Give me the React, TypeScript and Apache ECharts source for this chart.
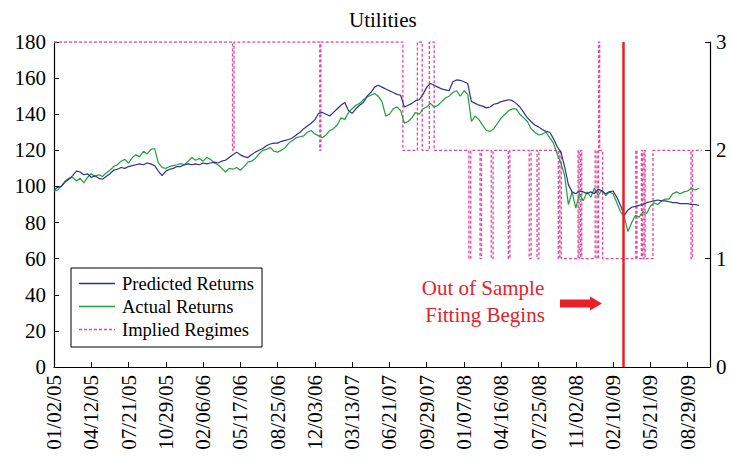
import React, { useEffect, useRef } from "react";
import * as echarts from "echarts";

// x positions: calendar days since 01/02/05, one reading every 10 days
const dayStep = 10;
const predictedReturns = [
  98, 99.5, 100, 102.5, 104, 106, 108.5, 108, 106.5, 107,
  105, 106, 104.5, 104, 105.5, 107, 109, 109.5, 110.5, 110,
  111, 111.5, 112, 112.5, 112, 113, 112.5, 111.5, 108.5, 106,
  108.5, 109.5, 110, 111, 111, 112, 112.5, 112, 112.5, 112,
  113, 112.5, 113, 113.5, 113, 114, 114.5, 116, 117.5, 119,
  117.5, 116.5, 116, 117.5, 119, 120, 121, 122.5, 123.5, 124,
  124, 125, 125.5, 126, 127, 128.5, 130, 132, 133.5, 135,
  137, 140.5, 141, 140, 139, 141, 143, 145, 146.5, 142,
  140.5, 143, 145, 146.5, 150, 152, 155, 156, 155, 154,
  153, 152, 151, 150.5, 144, 145, 146, 147.5, 148, 151,
  155, 157, 156, 155, 154, 153.5, 153, 158, 159, 158.8,
  158, 157, 147, 146, 145, 144.5, 143.5, 144, 145.5, 146,
  147, 147.5, 148, 147.5, 146, 144, 141, 138, 136, 134,
  133, 131.5, 130.5, 130, 126.5, 122, 119, 111, 101, 97,
  96, 97.5, 97, 96, 97, 96, 98.5, 97.5, 96, 97,
  97.5, 94, 89.5, 84, 87, 88.5, 89, 89.5, 90, 91,
  91.5, 92, 92.5, 92, 92, 91.5, 91, 91, 90.5, 90.5,
  90.5, 90, 90, 89.5
];
const actualReturns = [
  97.5, 98, 100.5, 103, 104.5, 105, 103, 104.5, 102, 105,
  107, 105.5, 106.5, 105.5, 107.5, 109, 111, 112, 114, 115,
  113, 116, 117.5, 116.5, 119.5, 118, 120.5, 121, 113, 110.5,
  110, 111, 111.5, 112, 112.6, 112, 114, 116, 114.5, 115.5,
  114, 116, 115, 113, 112, 110, 108, 110, 109.5, 110.5,
  109, 111, 113.5, 114, 115.5, 118, 120, 120.5, 121.6, 119.5,
  119, 120, 121.5, 124, 125.5, 127, 127.5, 128, 130, 131,
  129, 128, 127, 128.5, 131, 132, 134, 138, 137, 141,
  143, 145, 146, 148, 149.5, 150.5, 151.5, 150, 147, 139,
  140, 143, 144, 142, 135, 136, 138, 141, 140, 143,
  144, 146, 144, 145, 147, 149, 150, 152, 153, 150,
  153, 151, 136, 139, 137, 134, 131, 130.5, 132, 135,
  138, 140, 142, 143, 143, 140, 138, 136, 132, 130,
  128.5, 129, 130, 127, 124, 118, 113, 106, 90, 97,
  88, 96, 92, 97, 94, 99, 95, 98, 95, 97,
  96, 91, 86, 83, 75, 80, 84, 83, 86, 85,
  89, 91, 90, 92, 93, 93, 96, 97, 96, 97,
  97.5, 99, 98, 99
];
// implied regime: day on which a regime starts, and its level
const regimeDays = [
  0, 479, 483, 713, 716, 936, 975, 988, 1007, 1020,
  1113, 1118, 1143, 1147, 1173, 1178, 1219, 1223, 1275, 1280,
  1296, 1301, 1353, 1357, 1361, 1406, 1409, 1413, 1416, 1452,
  1457, 1461, 1464, 1472, 1561, 1564, 1576, 1579, 1583, 1586,
  1607, 1709, 1713, 1738
];
const regimeLevels = [
  3, 2, 3, 2, 3, 2, 3, 2, 3, 2,
  1, 2, 1, 2, 1, 2, 1, 2, 1, 2,
  1, 2, 1, 2, 1, 2, 1, 2, 1, 2,
  1, 3, 2, 1, 2, 1, 2, 1, 2, 1,
  2, 1, 2, 2
];
const outOfSampleDay = 1527;
const leftTicks = { min: 0, max: 180, interval: 20 };
const rightTicks = { min: 0, max: 3, interval: 1 };
const xTicks = { min: 0, max: 1760, interval: 100 };
const startDate = Date.UTC(2005, 0, 2);

const FONT = '"Liberation Serif", "Times New Roman", serif';
const SOLID_ICON = "path://M0,0H36V1.4H0Z";
const DOTTED_ICON =
  "path://M0,0h3v1.4h-3zM5,0h3v1.4h-3zM10,0h3v1.4h-3zM15,0h3v1.4h-3zM20,0h3v1.4h-3zM25,0h3v1.4h-3zM30,0h3v1.4h-3zM35,0h1v1.4h-1z";

function fmtDay(d: number): string {
  if (d % 100 !== 0) return "";
  const dt = new Date(startDate + d * 86400000);
  const p = (n: number) => (n < 10 ? "0" + n : "" + n);
  return p(dt.getUTCMonth() + 1) + "/" + p(dt.getUTCDate()) + "/" + p(dt.getUTCFullYear() % 100);
}

export default function App() {
  const ref = useRef<HTMLDivElement>(null);
  useEffect(() => {
    document.body.style.margin = "0";
    const chart = echarts.init(ref.current!, null, { renderer: "svg" });
    const pred = predictedReturns.map((v, i) => [i * dayStep, v]);
    const act = actualReturns.map((v, i) => [i * dayStep, v]);
    const reg = regimeDays.map((d, i) => [d, regimeLevels[i]]);
    chart.setOption({
      animation: false,
      backgroundColor: "#ffffff",
      title: {
        text: "Utilities",
        left: 344,
        top: 4,
        textStyle: { fontFamily: FONT, fontSize: 21, fontWeight: "normal", color: "#000" },
      },
      legend: {
        orient: "vertical",
        left: 71,
        top: 268,
        width: 192,
        padding: [6, 8, 8, 8],
        itemWidth: 36,
        itemHeight: 1.4,
        itemGap: 4,
        borderColor: "#000",
        borderWidth: 1,
        backgroundColor: "#fff",
        textStyle: { fontFamily: FONT, fontSize: 18.5, color: "#000", padding: [0, 0, 0, 2] },
        data: [
          { name: "Predicted Returns", icon: SOLID_ICON },
          { name: "Actual Returns", icon: SOLID_ICON },
          { name: "Implied Regimes", icon: DOTTED_ICON },
        ],
      },
      grid: { left: 54, right: 22, top: 42, bottom: 98 },
      xAxis: {
        type: "value",
        ...xTicks,
        axisLine: { show: true, lineStyle: { color: "#000", width: 1.2 } },
        axisTick: { show: true, inside: true, length: 5, lineStyle: { color: "#000" } },
        splitLine: { show: false },
        axisLabel: {
          rotate: 90,
          margin: 8,
          fontFamily: FONT,
          fontSize: 21,
          color: "#000",
          showMaxLabel: false,
          formatter: (v: number) => fmtDay(v),
        },
      },
      yAxis: [
        {
          type: "value",
          ...leftTicks,
          axisLine: { show: true, lineStyle: { color: "#000", width: 1.2 } },
          axisTick: { show: true, inside: true, length: 5, lineStyle: { color: "#000" } },
          splitLine: { show: false },
          axisLabel: { margin: 8, fontFamily: FONT, fontSize: 21, color: "#000" },
        },
        {
          type: "value",
          position: "right",
          ...rightTicks,
          axisLine: { show: true, lineStyle: { color: "#000", width: 1.2 } },
          axisTick: { show: true, inside: true, length: 5, lineStyle: { color: "#000" } },
          splitLine: { show: false },
          axisLabel: { margin: 6, fontFamily: FONT, fontSize: 21, color: "#000" },
        },
      ],
      series: [
        {
          name: "Implied Regimes",
          type: "line",
          yAxisIndex: 1,
          step: "end",
          symbol: "none",
          data: reg,
          lineStyle: { color: "#e2489c", width: 1.3, type: [3, 2] },
          itemStyle: { color: "#e2489c" },
          z: 2,
        },
        {
          name: "Actual Returns",
          type: "line",
          symbol: "none",
          data: act,
          lineStyle: { color: "#1f9e3a", width: 1.2 },
          itemStyle: { color: "#1f9e3a" },
          z: 3,
        },
        {
          name: "Predicted Returns",
          type: "line",
          symbol: "none",
          data: pred,
          lineStyle: { color: "#2e3190", width: 1.2 },
          itemStyle: { color: "#2e3190" },
          z: 4,
          markLine: {
            silent: true,
            symbol: "none",
            label: { show: false },
            lineStyle: { color: "#ec1c24", width: 2.5, type: "solid" },
            data: [{ xAxis: outOfSampleDay }],
          },
        },
      ],
      graphic: [
        {
          type: "text",
          x: 483,
          y: 288,
          style: {
            text: "Out of Sample",
            fill: "#e8202a",
            font: `21px ${FONT}`,
            textAlign: "center",
            textVerticalAlign: "middle",
          },
        },
        {
          type: "text",
          x: 485,
          y: 315,
          style: {
            text: "Fitting Begins",
            fill: "#e8202a",
            font: `21px ${FONT}`,
            textAlign: "center",
            textVerticalAlign: "middle",
          },
        },
        {
          type: "polygon",
          shape: {
            points: [
              [560, 299.5], [590, 299.5], [590, 296.5], [602, 303.5],
              [590, 310.5], [590, 307.5], [560, 307.5],
            ],
          },
          style: { fill: "#e8202a" },
        },
      ],
    });
    return () => chart.dispose();
  }, []);
  return <div ref={ref} style={{ width: 732, height: 465 }} />;
}
